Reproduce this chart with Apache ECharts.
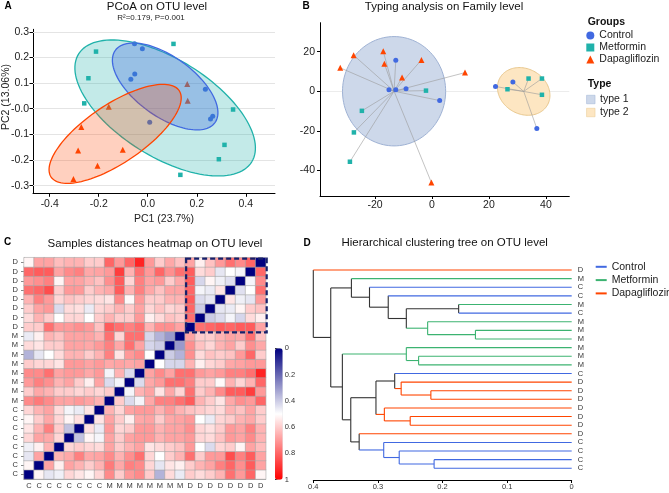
<!DOCTYPE html>
<html><head><meta charset="utf-8">
<script src="https://cdn.jsdelivr.net/npm/echarts@6/dist/echarts.min.js"></script>
<style>html,body{margin:0;padding:0;background:#fff}#c{width:669px;height:493px}</style>
</head><body><div id="c"></div>
<script>
// ================= DATA =================
const groupNames = ['Control', 'Metformin', 'Dapagliflozin'];

// ---- Panel A: PCoA on OTU level ----
const pcoaControl = [[-0.054,0.254],[-0.022,0.234],[-0.053,0.136],[-0.069,0.115],[0.235,0.076],[0.265,-0.029],[0.256,-0.040],[0.008,-0.053]];
const pcoaMetformin = [[0.105,0.253],[-0.211,0.223],[-0.242,0.119],[-0.259,0.021],[0.348,-0.003],[0.313,-0.141],[0.290,-0.197],[0.133,-0.258]];
const pcoaDapagliflozin = [[0.161,0.097],[0.163,0.031],[-0.159,0.008],[-0.271,-0.071],[-0.284,-0.163],[-0.102,-0.160],[-0.205,-0.222],[-0.303,-0.274]];
// confidence ellipses: [centre x, centre y, semi-major (x units), semi-minor (y units), tilt deg]
const pcoaEllipseControl = [0.071, 0.087, 0.251, 0.116, 36];
const pcoaEllipseMetformin = [0.071, 0.003, 0.416, 0.190, 32];
const pcoaEllipseDapagliflozin = [-0.133, -0.098, 0.315, 0.114, -34];
const pcoaXTicks = [-0.4, -0.2, 0, 0.2, 0.4];
const pcoaXTickLabels = ['-0.4', '-0.2', '0.0', '0.2', '0.4'];
const pcoaYTicks = [-0.3, -0.2, -0.1, 0, 0.1, 0.2, 0.3];
const pcoaYTickLabels = ['-0.3', '-0.2', '-0.1', '-0.0', '0.1', '0.2', '0.3'];

// ---- Panel B: Typing analysis on Family level ----
const typeControl = [[-12.7,15.6],[-15.1,0.7],[-12.7,0.7],[-9.1,1.3],[2.7,-4.7],[22.3,2.4],[28.4,4.7],[36.8,-18.8]];
const typeMetformin = [[-2.1,0.3],[-24.6,-9.9],[-27.4,-20.8],[-28.8,-35.6],[26.5,1.0],[33.9,6.4],[38.6,6.4],[38.6,-1.8]];
const typeDapagliflozin = [[-17.1,20.2],[-27.5,18.2],[-32.2,11.8],[-16.7,13.9],[-3.7,15.8],[-10.5,6.9],[11.6,9.4],[-0.2,-46.1]];
const typeOfControl = [1,1,1,1,1,2,2,2];
const typeOfMetformin = [1,1,1,1,2,2,2,2];
const typeOfDapagliflozin = [1,1,1,1,1,1,1,1];
// cluster ellipses: [centre x, centre y, semi-axis (x units), semi-axis (y units), tilt deg]
const typeEllipse1 = [-13.3, 0.0, 18.1, 27.6, 0];
const typeEllipse2 = [32.2, -0.1, 9.6, 11.4, 30];
const typeXTicks = [-20, 0, 20, 40];
const typeYTicks = [-40, -20, 0, 20];

// ---- Panel C: Samples distances heatmap ----
const samples = ['C1','C2','C3','C4','C5','C6','C7','C8','M1','M2','M3','M4','M5','M6','M7','M8','D1','D2','D3','D4','D5','D6','D7','D8'];
// lower triangle of the distance matrix: distLower[i][j] = d(sample i, sample j), j < i
const distLower = [
  [],
  [0.52],
  [0.45,0.68],
  [0.47,0.53,0.65],
  [0.58,0.68,0.67,0.58],
  [0.55,0.65,0.75,0.60,0.38],
  [0.52,0.60,0.67,0.58,0.52,0.56],
  [0.58,0.65,0.68,0.57,0.48,0.46,0.55],
  [0.73,0.76,0.73,0.68,0.68,0.70,0.68,0.65],
  [0.60,0.67,0.65,0.60,0.60,0.58,0.60,0.58,0.60],
  [0.70,0.75,0.72,0.65,0.68,0.60,0.53,0.68,0.43,0.48],
  [0.73,0.73,0.78,0.68,0.70,0.70,0.67,0.70,0.48,0.65,0.43],
  [0.60,0.58,0.58,0.55,0.70,0.70,0.68,0.70,0.67,0.68,0.67,0.68],
  [0.35,0.45,0.50,0.57,0.65,0.65,0.60,0.65,0.75,0.55,0.70,0.73,0.50],
  [0.57,0.55,0.60,0.60,0.68,0.68,0.67,0.70,0.75,0.67,0.78,0.68,0.42,0.40],
  [0.46,0.53,0.65,0.62,0.68,0.68,0.68,0.65,0.78,0.58,0.78,0.78,0.42,0.35,0.30],
  [0.60,0.60,0.78,0.70,0.70,0.72,0.70,0.62,0.82,0.78,0.75,0.78,0.65,0.72,0.72,0.68],
  [0.57,0.65,0.60,0.50,0.58,0.58,0.50,0.60,0.65,0.60,0.60,0.70,0.53,0.57,0.62,0.60,0.78],
  [0.60,0.68,0.70,0.43,0.57,0.56,0.46,0.58,0.60,0.65,0.60,0.68,0.58,0.62,0.58,0.60,0.80,0.40],
  [0.65,0.75,0.70,0.58,0.62,0.60,0.58,0.57,0.55,0.73,0.51,0.70,0.60,0.60,0.65,0.65,0.82,0.43,0.45],
  [0.78,0.80,0.85,0.60,0.70,0.70,0.60,0.65,0.67,0.82,0.65,0.75,0.67,0.62,0.68,0.68,0.80,0.48,0.46,0.55],
  [0.70,0.72,0.75,0.52,0.68,0.68,0.65,0.62,0.72,0.82,0.58,0.75,0.68,0.70,0.60,0.67,0.82,0.42,0.52,0.47,0.44],
  [0.80,0.82,0.82,0.68,0.73,0.75,0.67,0.68,0.70,0.88,0.65,0.78,0.70,0.80,0.72,0.78,0.82,0.57,0.60,0.45,0.50,0.48],
  [0.52,0.68,0.68,0.63,0.65,0.65,0.60,0.60,0.80,0.70,0.80,0.93,0.70,0.60,0.67,0.62,0.68,0.53,0.62,0.70,0.78,0.73,0.80]
];
const highlightBlock = [16, 23]; // Dapagliflozin block (sample index range)
const colorbarTicks = [0, 0.2, 0.4, 0.6, 0.8, 1];

// ---- Panel D: Hierarchical clustering tree ----
const leafLabels = ['D','M','C','C','M','C','M','M','M','M','M','M','C','D','D','D','D','D','D','D','C','C','C','C'];
// merges: [child a, child b, height]; child = leaf index or 'n<k>' (k-th merge)
const treeMerges = [
  [4,5,0.175],[7,8,0.149],[6,'n1',0.223],['n0','n2',0.256],[3,'n3',0.284],[2,'n4',0.313],[1,'n5',0.341],
  [10,11,0.237],[9,'n7',0.256],[14,15,0.218],[13,'n9',0.264],[12,'n10',0.274],[17,18,0.250],[16,'n12',0.290],
  ['n11','n13',0.303],[22,23,0.213],[21,'n15',0.267],[20,'n16',0.291],[19,'n17',0.329],['n14','n18',0.342],
  ['n8','n19',0.355],['n6','n20',0.373],[0,'n21',0.400]
];
const treeXTicks = [0, 0.1, 0.2, 0.3, 0.4];

// ================= STYLE =================
const FONT = 'Liberation Sans, Arial, Helvetica, sans-serif';
const gColors = {Control:'#4169E1', Metformin:'#20B2AA', Dapagliflozin:'#FF4500'};
const tColors = {Control:'#4169E1', Metformin:'#3CB371', Dapagliflozin:'#FF4500', mixed:'#333333'};
const symbols = {Control:'circle', Metformin:'rect', Dapagliflozin:'triangle'};
const symSizes = {Control:5, Metformin:4.5, Dapagliflozin:6};
const letterGroup = {C:'Control', M:'Metformin', D:'Dapagliflozin'};

// ================= BUILD =================
function ellipsePoints(api, e) {
  const c = api.coord([e[0], e[1]]);
  const a = api.size([e[2], 0])[0];
  const b = api.size([0, e[3]])[1];
  const t = e[4] * Math.PI / 180;
  const pts = [];
  for (let k = 0; k < 120; k++) {
    const s = k / 120 * 2 * Math.PI;
    pts.push([c[0] + a * Math.cos(s) * Math.cos(t) - b * Math.sin(s) * Math.sin(t),
              c[1] + a * Math.cos(s) * Math.sin(t) + b * Math.sin(s) * Math.cos(t)]);
  }
  return pts;
}

// Panel A series
const pcoaSets = {Control:pcoaControl, Metformin:pcoaMetformin, Dapagliflozin:pcoaDapagliflozin};
const pcoaEllipses = {Control:pcoaEllipseControl, Metformin:pcoaEllipseMetformin, Dapagliflozin:pcoaEllipseDapagliflozin};
const ellipseAlpha = {Control:0.33, Metformin:0.27, Dapagliflozin:0.25};
const series = [];
groupNames.forEach((g, gi) => {
  const s = {
    type:'scatter', name:g, xAxisIndex:0, yAxisIndex:0, data:pcoaSets[g],
    symbol:symbols[g], symbolSize:symSizes[g], itemStyle:{color:gColors[g], opacity:1}, z:2
  };
  if (gi === 0) {
    s.markLine = {silent:true, symbol:'none', label:{show:false},
      lineStyle:{color:'#e4e4e4', type:'solid', width:1},
      data: pcoaYTicks.map(v => ({yAxis:v})), z:1};
  }
  series.push(s);
});
['Metformin','Control','Dapagliflozin'].forEach(g => {
  series.push({
    type:'custom', name:'ellipse ' + g, xAxisIndex:0, yAxisIndex:0, z:3, silent:true,
    data:[pcoaEllipses[g]],
    renderItem: (params, api) => {
      const e = [api.value(0), api.value(1), api.value(2), api.value(3), api.value(4)];
      return {type:'polygon', shape:{points:ellipsePoints(api, e)},
        style:{fill:gColors[g], opacity:1, fillOpacity:ellipseAlpha[g], stroke:gColors[g], lineWidth:1.3}};
    },
    encode:{x:0, y:1}
  });
});

// Panel B series
const typeEll = {'type 1':typeEllipse1, 'type 2':typeEllipse2};
const typeFill = {'type 1':'#cdd8ea', 'type 2':'#fde6c2'};
const typeStroke = {'type 1':'#9fb2d4', 'type 2':'#e9c88e'};
['type 1','type 2'].forEach(tn => {
  series.push({
    type:'custom', name:tn, xAxisIndex:1, yAxisIndex:1, z:1, silent:true,
    itemStyle:{color:typeFill[tn]},
    data:[typeEll[tn]],
    renderItem: (params, api) => {
      const e = [api.value(0), api.value(1), api.value(2), api.value(3), api.value(4)];
      return {type:'polygon', shape:{points:ellipsePoints(api, e)},
        style:{fill:typeFill[tn], stroke:typeStroke[tn], lineWidth:1}};
    },
    encode:{x:0, y:1}
  });
});
const typeSets = {Control:typeControl, Metformin:typeMetformin, Dapagliflozin:typeDapagliflozin};
const typeOf = {Control:typeOfControl, Metformin:typeOfMetformin, Dapagliflozin:typeOfDapagliflozin};
const spokes = [];
groupNames.forEach(g => typeSets[g].forEach((p, k) => {
  const e = typeOf[g][k] === 1 ? typeEllipse1 : typeEllipse2;
  spokes.push([p[0], p[1], e[0], e[1]]);
}));
series.push({
  type:'custom', name:'spokes', xAxisIndex:1, yAxisIndex:1, z:2, silent:true, data:spokes,
  renderItem: (params, api) => {
    const p = api.coord([api.value(0), api.value(1)]);
    const c = api.coord([api.value(2), api.value(3)]);
    return {type:'line', shape:{x1:p[0], y1:p[1], x2:c[0], y2:c[1]}, style:{stroke:'#9a9a9a', lineWidth:0.6}};
  },
  encode:{x:[0,2], y:[1,3]}
});
groupNames.forEach(g => {
  series.push({type:'scatter', name:g, xAxisIndex:1, yAxisIndex:1, z:3, data:typeSets[g],
    symbol:symbols[g], symbolSize:symSizes[g], itemStyle:{color:gColors[g], opacity:1},
    markLine: g === 'Control' ? {silent:true, symbol:'none', label:{show:false},
      lineStyle:{color:'#ececec', type:'solid', width:1}, data:[{yAxis:0}], z:0} : undefined
  });
});

// Panel C series
const hmData = [];
for (let i = 0; i < samples.length; i++) {
  for (let j = 0; j < samples.length; j++) {
    const v = i === j ? 0 : (j < i ? distLower[i][j] : distLower[j][i]);
    hmData.push([j, i, v]);
  }
}
const hmSeriesIndex = series.length;
series.push({type:'heatmap', name:'distance', xAxisIndex:2, yAxisIndex:2, data:hmData,
  itemStyle:{borderColor:'#a8a8a8', borderWidth:0.6}, emphasis:{disabled:true}});
series.push({
  type:'custom', name:'block', xAxisIndex:2, yAxisIndex:2, z:5, silent:true,
  data:[[highlightBlock[0], highlightBlock[1], highlightBlock[0], highlightBlock[1]]],
  renderItem: (params, api) => {
    const p0 = api.coord([api.value(0), api.value(3)]);
    const p1 = api.coord([api.value(1), api.value(2)]);
    const s = api.size([1, 1]);
    return {type:'rect', shape:{x:p0[0]-s[0]/2+1, y:p0[1]-s[1]/2+1, width:p1[0]-p0[0]+s[0], height:p1[1]-p0[1]+s[1]},
      style:{fill:'none', stroke:'#16206b', lineWidth:2.2, lineDash:[5,3]}};
  },
  encode:{x:[0,1], y:[2,3]}
});

// Panel D series
const nodes = [];
const segs = {Control:[], Metformin:[], Dapagliflozin:[], mixed:[]};
function nodeInfo(c) {
  if (typeof c === 'number') return {x:0, y:c, group:letterGroup[leafLabels[c]]};
  return nodes[parseInt(c.slice(1), 10)];
}
treeMerges.forEach(m => {
  const a = nodeInfo(m[0]), b = nodeInfo(m[1]), h = m[2];
  const node = {x:h, y:(a.y + b.y) / 2, group: a.group === b.group ? a.group : 'mixed'};
  segs[node.group].push([h, a.y, h, b.y]);
  segs[a.group].push([h, a.y, a.x, a.y]);
  segs[b.group].push([h, b.y, b.x, b.y]);
  nodes.push(node);
});
['mixed','Control','Metformin','Dapagliflozin'].forEach(g => {
  series.push({
    type:'custom', name:g, xAxisIndex:3, yAxisIndex:3, z:2, silent:true, data:segs[g],
    itemStyle:{color:tColors[g]},
    renderItem: (params, api) => {
      const p = api.coord([api.value(0), api.value(1)]);
      const q = api.coord([api.value(2), api.value(3)]);
      return {type:'line', shape:{x1:p[0], y1:p[1], x2:q[0], y2:q[1]}, style:{stroke:tColors[g], lineWidth:1.1}};
    },
    encode:{x:[0,2], y:[1,3]}
  });
});

// ================= OPTION =================
const axisBlack = {onZero:false, lineStyle:{color:'#000', width:1}};
function findLabel(ticks, labels, v) {
  for (let k = 0; k < ticks.length; k++) if (Math.abs(ticks[k] - v) < 1e-9) return labels[k];
  return '';
}
const option = {
  animation:false,
  backgroundColor:'#fff',
  textStyle:{fontFamily:FONT},
  grid:[
    {left:33, top:29.3, width:242, height:164},
    {left:320, top:22.7, width:249.3, height:173.3},
    {left:24, top:257.7, width:241.7, height:221.3},
    {left:313.3, top:265.7, width:258.4, height:206.9},
    {left:275, top:348.3, width:7.7, height:131.4}
  ],
  xAxis:[
    {type:'value', gridIndex:0, min:-0.468, max:0.519, axisLine:axisBlack, splitLine:{show:false},
      axisTick:{customValues:pcoaXTicks, length:3.5, lineStyle:{color:'#000'}},
      axisLabel:{customValues:pcoaXTicks, fontSize:10.5, color:'#222', margin:5, formatter:v => findLabel(pcoaXTicks, pcoaXTickLabels, v)}},
    {type:'value', gridIndex:1, min:-39.3, max:48.2, axisLine:axisBlack, splitLine:{show:false},
      axisTick:{customValues:typeXTicks, length:3, lineStyle:{color:'#000'}},
      axisLabel:{customValues:typeXTicks, fontSize:10.5, color:'#222', margin:4}},
    {type:'category', gridIndex:2, data:samples, axisLine:{lineStyle:{color:'#999'}},
      axisTick:{alignWithLabel:true, length:3, lineStyle:{color:'#888'}}, splitLine:{show:false},
      axisLabel:{interval:0, fontSize:7.5, color:'#333', margin:3, formatter:v => v.charAt(0)}},
    {type:'value', gridIndex:3, min:0, max:0.4, inverse:true, offset:7.4, axisLine:axisBlack, splitLine:{show:false},
      axisTick:{customValues:treeXTicks, length:3, lineStyle:{color:'#000'}},
      axisLabel:{customValues:treeXTicks, fontSize:7.5, color:'#333', margin:2.5}},
    {type:'value', gridIndex:4, min:0, max:1, show:false}
  ],
  yAxis:[
    {type:'value', gridIndex:0, min:-0.33, max:0.31, axisLine:{show:true, onZero:false, lineStyle:{color:'#000', width:1}}, splitLine:{show:false},
      axisTick:{show:true, customValues:pcoaYTicks, length:3.5, lineStyle:{color:'#000'}},
      axisLabel:{customValues:pcoaYTicks, fontSize:10.5, color:'#222', margin:4, formatter:v => findLabel(pcoaYTicks, pcoaYTickLabels, v)}},
    {type:'value', gridIndex:1, min:-52.9, max:34.6, axisLine:{show:true, onZero:false, lineStyle:{color:'#000', width:1}}, splitLine:{show:false},
      axisTick:{show:true, customValues:typeYTicks, length:3, lineStyle:{color:'#000'}},
      axisLabel:{customValues:typeYTicks, fontSize:10.5, color:'#222', margin:5}},
    {type:'category', gridIndex:2, data:samples, axisLine:{show:true, lineStyle:{color:'#999'}},
      axisTick:{show:true, alignWithLabel:true, length:3, lineStyle:{color:'#888'}}, splitLine:{show:false},
      axisLabel:{interval:0, fontSize:7.5, color:'#333', margin:6, formatter:v => v.charAt(0)}},
    {type:'value', gridIndex:3, min:-0.5, max:leafLabels.length - 0.5, inverse:true, show:false},
    {type:'category', gridIndex:3, data:leafLabels.map((l, k) => l + k), inverse:true, position:'right',
      axisLine:{show:false}, axisTick:{show:false}, splitLine:{show:false},
      axisLabel:{interval:0, fontSize:7.5, color:'#333', margin:6, formatter:v => v.charAt(0)}},
    {type:'value', gridIndex:4, min:0, max:1, inverse:true, position:'right', interval:0.2,
      axisLine:{show:false}, splitLine:{show:false},
      axisTick:{show:true, length:2.5, lineStyle:{color:'#333'}},
      axisLabel:{fontSize:7.5, color:'#333', margin:2}}
  ],
  visualMap:[{
    type:'continuous', min:0, max:1, seriesIndex:hmSeriesIndex, inverse:true, orient:'vertical',
    left:275, top:348.3, itemWidth:7.7, itemHeight:131.4, calculable:false, padding:0,
    showLabel:false, text:null, textStyle:{fontSize:0},
    inRange:{color:['#00007f', '#ffffff', '#ff0000']}
  }],
  legend:[
    {orient:'vertical', left:586.3, top:30, padding:0, itemGap:1, itemWidth:8, itemHeight:8,
      textStyle:{fontSize:10.5, color:'#222'}, selectedMode:false,
      data:groupNames.map(g => ({name:g, icon:symbols[g], itemStyle:{color:gColors[g]}}))},
    {orient:'vertical', left:586.3, top:94, padding:0, itemGap:2, itemWidth:8.5, itemHeight:8.5,
      textStyle:{fontSize:10.5, color:'#222'}, selectedMode:false,
      data:['type 1','type 2'].map(t => ({name:t, icon:'rect', itemStyle:{color:typeFill[t], borderColor:typeStroke[t], borderWidth:0.5}}))},
    {orient:'vertical', left:595.7, top:261.3, padding:0, itemGap:2.3, itemWidth:11, itemHeight:2,
      textStyle:{fontSize:10.5, color:'#222'}, selectedMode:false,
      data:groupNames.map(g => ({name:g, icon:'path://M0,0H11V2H0Z', itemStyle:{color:tColors[g]}}))}
  ],
  graphic:[
    {type:'text', x:8, y:6.5, style:{text:'A', font:'bold 10px ' + FONT, fill:'#000', textAlign:'center', textVerticalAlign:'middle', align:'center', verticalAlign:'middle'}},
    {type:'text', x:157, y:7, style:{text:'PCoA on OTU level', font:'11.5px ' + FONT, fill:'#111', textAlign:'center', textVerticalAlign:'middle', align:'center', verticalAlign:'middle'}},
    {type:'text', x:151, y:17.5, style:{text:'R²=0.179, P=0.001', font:'8px ' + FONT, fill:'#222', textAlign:'center', textVerticalAlign:'middle', align:'center', verticalAlign:'middle'}},
    {type:'text', x:164, y:219.3, style:{text:'PC1 (23.7%)', font:'10.5px ' + FONT, fill:'#222', textAlign:'center', textVerticalAlign:'middle', align:'center', verticalAlign:'middle'}},
    {type:'text', x:6, y:97, rotation:Math.PI/2, style:{text:'PC2 (13.06%)', font:'10.5px ' + FONT, fill:'#222', textAlign:'center', textVerticalAlign:'middle', align:'center', verticalAlign:'middle'}},
    {type:'text', x:306, y:6.5, style:{text:'B', font:'bold 10px ' + FONT, fill:'#000', textAlign:'center', textVerticalAlign:'middle', align:'center', verticalAlign:'middle'}},
    {type:'text', x:444, y:6.5, style:{text:'Typing analysis on Family level', font:'11.5px ' + FONT, fill:'#111', textAlign:'center', textVerticalAlign:'middle', align:'center', verticalAlign:'middle'}},
    {type:'text', x:587.7, y:22.3, style:{text:'Groups', font:'bold 10.5px ' + FONT, fill:'#111', textAlign:'left', textVerticalAlign:'middle', align:'left', verticalAlign:'middle'}},
    {type:'text', x:587.7, y:84, style:{text:'Type', font:'bold 10.5px ' + FONT, fill:'#111', textAlign:'left', textVerticalAlign:'middle', align:'left', verticalAlign:'middle'}},
    {type:'text', x:7.5, y:242.5, style:{text:'C', font:'bold 10px ' + FONT, fill:'#000', textAlign:'center', textVerticalAlign:'middle', align:'center', verticalAlign:'middle'}},
    {type:'text', x:155, y:244, style:{text:'Samples distances heatmap on OTU level', font:'11.5px ' + FONT, fill:'#111', textAlign:'center', textVerticalAlign:'middle', align:'center', verticalAlign:'middle'}},
    {type:'text', x:307, y:243, style:{text:'D', font:'bold 10px ' + FONT, fill:'#000', textAlign:'center', textVerticalAlign:'middle', align:'center', verticalAlign:'middle'}},
    {type:'text', x:444.7, y:243, style:{text:'Hierarchical clustering tree on OTU level', font:'11.5px ' + FONT, fill:'#111', textAlign:'center', textVerticalAlign:'middle', align:'center', verticalAlign:'middle'}}
  ],
  series:series
};
const chart = echarts.init(document.getElementById('c'), null, {width:669, height:493});
chart.setOption(option);
</script>
</body></html>
